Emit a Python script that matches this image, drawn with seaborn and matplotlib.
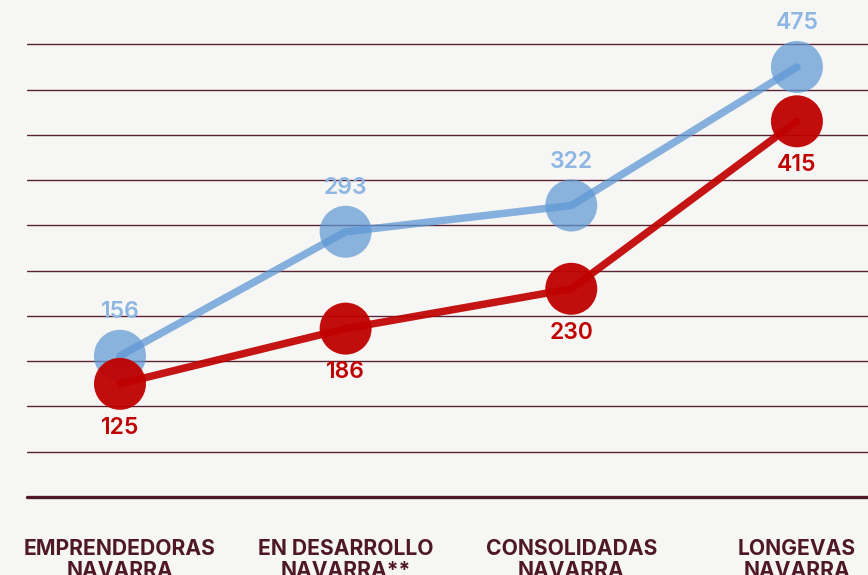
import matplotlib
matplotlib.use("Agg")
import matplotlib.pyplot as plt
import pandas as pd
import seaborn as sns

categories = ["EMPRENDEDORAS\nNAVARRA", "EN DESARROLLO\nNAVARRA**",
              "CONSOLIDADAS\nNAVARRA", "LONGEVAS\nNAVARRA"]
blue_values = [156, 293, 322, 475]
red_values = [125, 186, 230, 415]

BG = "#f6f6f4"
BLUE = "#5f98d4"
BLUE_TEXT = "#8db6e2"
RED = "#c00000"
MAROON = "#4f1829"

sns.set_theme(style="white")
plt.rcParams["font.family"] = ["Inter", "DejaVu Sans"]

df = pd.DataFrame({"x": range(len(categories)), "blue": blue_values, "red": red_values})

fig = plt.figure(figsize=(8.68, 5.75), dpi=100, facecolor=BG)
ax = fig.add_axes([27 / 868, 78 / 575, 841 / 868, 497 / 575])
ax.set_facecolor(BG)

# gridlines every 50, thicker baseline
for v in range(50, 501, 50):
    ax.axhline(v, color="#5c2236", lw=1.0, zorder=0)
ax.axhline(0, color=MAROON, lw=2.4, zorder=0, clip_on=False)

# blue series
sns.scatterplot(data=df, x="x", y="blue", s=1400, color=BLUE, alpha=0.72,
                edgecolor="none", ax=ax, zorder=2)
sns.lineplot(data=df, x="x", y="blue", color=BLUE, alpha=0.75, lw=5.4,
             solid_capstyle="round", ax=ax, zorder=3)
# red series
sns.scatterplot(data=df, x="x", y="red", s=1400, color=RED, alpha=0.95,
                edgecolor="none", ax=ax, zorder=4)
sns.lineplot(data=df, x="x", y="red", color="#c00000", alpha=0.92, lw=5.4,
             solid_capstyle="round", ax=ax, zorder=5)

for i, (b, r) in enumerate(zip(blue_values, red_values)):
    ax.annotate(str(b), (i, b), xytext=(0, 31.5), textcoords="offset points",
                ha="center", va="center", fontsize=16.5, fontweight="semibold",
                color=BLUE_TEXT, zorder=6)
    ax.annotate(str(r), (i, r), xytext=(0, -31.5), textcoords="offset points",
                ha="center", va="center", fontsize=16.5, fontweight="semibold",
                color=RED, zorder=6)

ax.set_xlim(-0.412, 3.315)
ax.set_ylim(0, 549)
ax.set_yticks([])
ax.set_xticks(range(len(categories)))
ax.set_xticklabels(categories, fontsize=15.2, fontweight="bold", color=MAROON,
                   linespacing=1.1)
ax.tick_params(axis="x", length=0, pad=30.5)
ax.set_xlabel("")
ax.set_ylabel("")
for s in ax.spines.values():
    s.set_visible(False)

fig.savefig("out.png", dpi=100, facecolor=BG)
